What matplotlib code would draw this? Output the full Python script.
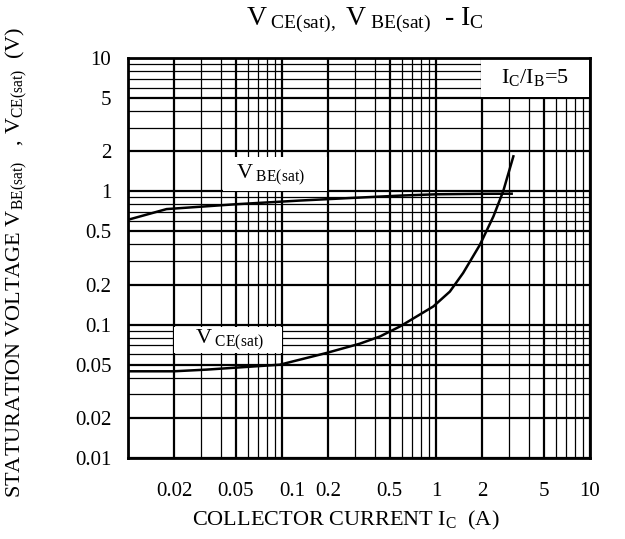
import matplotlib
matplotlib.use("Agg")
import matplotlib.pyplot as plt
from matplotlib.patches import Rectangle
from matplotlib.ticker import FixedLocator, LogLocator, NullFormatter
import matplotlib.transforms as mtransforms

plt.rcParams["font.family"] = ["Liberation Serif", "DejaVu Serif"]
plt.rcParams["mathtext.fontset"] = "custom"
plt.rcParams["mathtext.rm"] = "Liberation Serif"
plt.rcParams["mathtext.it"] = "Liberation Serif:italic"

# datos
ic_vbe = [0.01, 0.0178, 0.05, 0.131, 0.3, 0.6, 1.0, 2.0, 3.1]
vbe_sat = [0.612, 0.736, 0.80, 0.853, 0.895, 0.93, 0.950, 0.958, 0.96]
ic_vce = [0.01, 0.0198, 0.0323, 0.0968, 0.194, 0.32, 0.433, 0.584, 0.961,
          1.23, 1.50, 1.93, 2.36, 2.73, 3.18]
vce_sat = [0.0447, 0.0447, 0.046, 0.0501, 0.0613, 0.072, 0.0816, 0.097,
           0.137, 0.177, 0.244, 0.398, 0.649, 1.0, 1.83]
x_ticks = [0.02, 0.05, 0.1, 0.2, 0.5, 1, 2, 5, 10]
x_labels = ["0.02", "0.05", "0.1", "0.2", "0.5", "1", "2", "5", "10"]
y_ticks = [0.01, 0.02, 0.05, 0.1, 0.2, 0.5, 1, 2, 5, 10]
y_labels = ["0.01", "0.02", "0.05", "0.1", "0.2", "0.5", "1", "2", "5", "10"]

fig = plt.figure(figsize=(6.25, 5.39), dpi=100)
ax = fig.add_axes([128 / 625, 81 / 539, 462 / 625, 400 / 539])
ax.set_xscale("log")
ax.set_yscale("log")
ax.set_xlim(0.01, 10)
ax.set_ylim(0.01, 10)

ax.xaxis.set_major_locator(FixedLocator(x_ticks))
ax.yaxis.set_major_locator(FixedLocator(y_ticks))
ax.set_xticklabels(x_labels, fontsize=15)
ax.set_yticklabels(y_labels, fontsize=15)
ax.xaxis.set_minor_locator(LogLocator(base=10, subs=range(1, 10), numticks=50))
ax.yaxis.set_minor_locator(LogLocator(base=10, subs=range(1, 10), numticks=50))
ax.xaxis.set_minor_formatter(NullFormatter())
ax.yaxis.set_minor_formatter(NullFormatter())
ax.tick_params(which="both", length=0)
ax.tick_params(axis="x", pad=17)
ax.tick_params(axis="y", pad=12)

# la etiqueta 0.1 esta corrida un poco a la derecha en el original
for lbl in ax.get_xticklabels():
    if lbl.get_text() == "0.1":
        lbl.set_transform(lbl.get_transform() +
                          mtransforms.ScaledTranslation(0.1, 0, fig.dpi_scale_trans))

ax.grid(True, which="minor", color="black", linewidth=0.9)
ax.grid(True, which="major", color="black", linewidth=1.6)
ax.set_axisbelow(True)
for s in ax.spines.values():
    s.set_linewidth(2)

ax.plot(ic_vbe, vbe_sat, color="black", linewidth=1.8, zorder=4)
ax.plot(ic_vce, vce_sat, color="black", linewidth=1.8, zorder=4)

# cajas blancas para las etiquetas
def caja(x0, y0, x1, y1):
    ax.add_patch(Rectangle(((x0 - 128) / 462, (458 - y1) / 400),
                           (x1 - x0) / 462, (y1 - y0) / 400,
                           transform=ax.transAxes, facecolor="white",
                           edgecolor="none", zorder=2))

caja(223, 157, 327, 191)
caja(174, 327, 282, 353)
caja(481, 59, 589, 97)

ax.text((270 - 128) / 462, (458 - 175) / 400, r"V$_{\rm\ BE(sat)}$",
        transform=ax.transAxes, ha="center", va="center", fontsize=16, zorder=3)
ax.text((229 - 128) / 462, (458 - 340) / 400, r"V$_{\rm\ CE(sat)}$",
        transform=ax.transAxes, ha="center", va="center", fontsize=16, zorder=3)
ax.text((535 - 128) / 462, (458 - 77) / 400, r"I$_{\rm C}$/I$_{\rm B}$=5",
        transform=ax.transAxes, ha="center", va="center", fontsize=16, zorder=3)

fig.text(365 / 625, 1 - 20 / 539,
         r"V$_{\rm\ CE(sat),}$ V$_{\rm\ BE(sat)}$  - I$_{\rm C}$",
         ha="center", va="center", fontsize=20)
fig.text(346 / 625, 1 - 520 / 539, r"COLLECTOR CURRENT I$_{\rm C}$  (A)",
         ha="center", va="center", fontsize=16)
fig.text(16 / 625, 1 - 262 / 539,
         r"STATURATION VOLTAGE V$_{\rm BE(sat)}$   , V$_{\rm CE(sat)}$  (V)",
         ha="center", va="center", rotation=90, fontsize=16)

fig.savefig("out.png", dpi=100)
